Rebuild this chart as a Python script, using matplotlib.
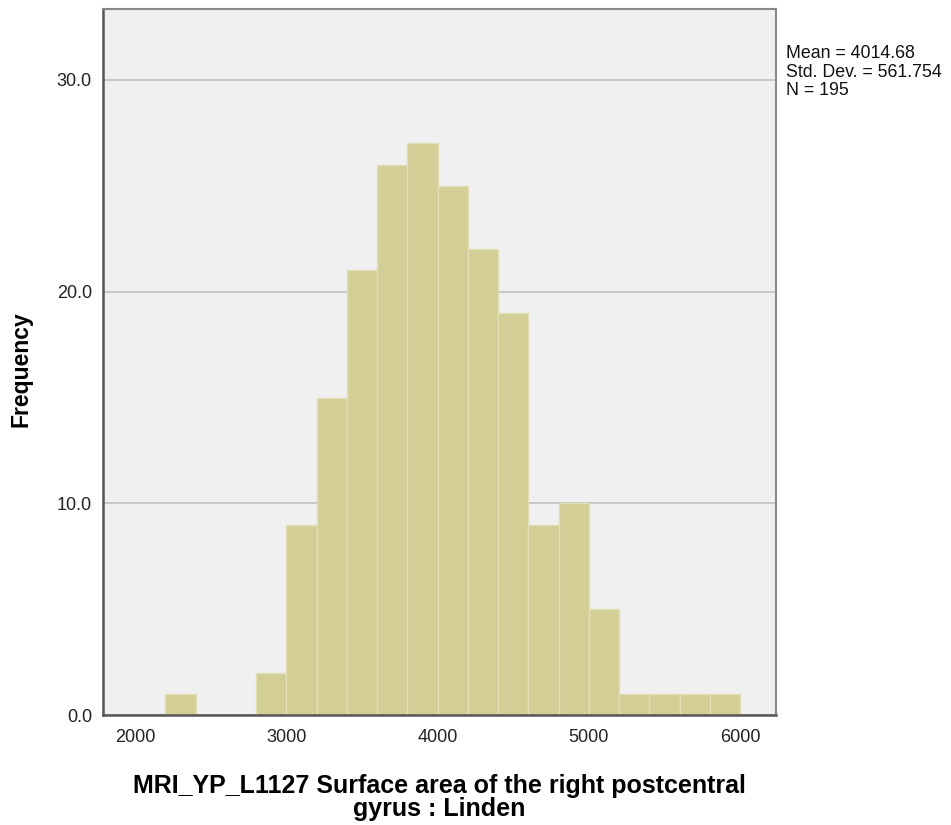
import matplotlib
matplotlib.use('Agg')
import matplotlib.pyplot as plt

# histogram data (bin width 200)
bin_left = [2200, 2400, 2600, 2800, 3000, 3200, 3400, 3600, 3800, 4000,
            4200, 4400, 4600, 4800, 5000, 5200, 5400, 5600, 5800]
counts = [1, 0, 0, 2, 9, 15, 21, 26, 27, 25, 22, 19, 9, 10, 5, 1, 1, 1, 1]
bin_width = 200

x_ticks = [2000, 3000, 4000, 5000, 6000]
y_ticks = [0, 10, 20, 30]

stats_text = "Mean = 4014.68\nStd. Dev. = 561.754\nN = 195"
x_label = "MRI_YP_L1127 Surface area of the right postcentral\ngyrus : Linden"
y_label = "Frequency"

plt.rcParams['font.family'] = ['Liberation Sans', 'DejaVu Sans']

fig = plt.figure(figsize=(9.51, 8.25), dpi=100)
ax = fig.add_axes([0.1083, 0.1333, 0.7077, 0.8557])
ax.set_facecolor('#f0f0f0')

ax.bar(bin_left, counts, width=bin_width, align='edge',
       color='#d2ce96', edgecolor='#e2dfb6', linewidth=1, zorder=2)

ax.set_xlim(1788, 6238)
ax.set_ylim(0, 33.35)
ax.set_xticks(x_ticks)
ax.set_yticks(y_ticks)
ax.set_yticklabels(['%.1f' % v for v in y_ticks])
ax.tick_params(axis='both', length=0, labelsize=13, colors='#222222')
ax.tick_params(axis='x', pad=10)
ax.tick_params(axis='y', pad=8)

ax.yaxis.grid(True, color='#c4c4c4', linewidth=1.3, zorder=1)
ax.set_axisbelow(True)

for s in ['left', 'bottom']:
    ax.spines[s].set_color('#555555')
    ax.spines[s].set_linewidth(1.8)
for s in ['top', 'right']:
    ax.spines[s].set_color('#888888')
    ax.spines[s].set_linewidth(1.5)

ax.set_xlabel(x_label, fontsize=18, fontweight='bold', linespacing=0.95)
ax.xaxis.set_label_coords(0.5, -0.083)
ax.set_ylabel(y_label, fontsize=16.5, fontweight='bold')
ax.yaxis.set_label_coords(-0.105, 0.49)

fig.text(0.826, 0.945, stats_text, fontsize=12.8, va='top', ha='left',
         linespacing=1.1, color='#111111')

fig.savefig('out.png', dpi=100)
